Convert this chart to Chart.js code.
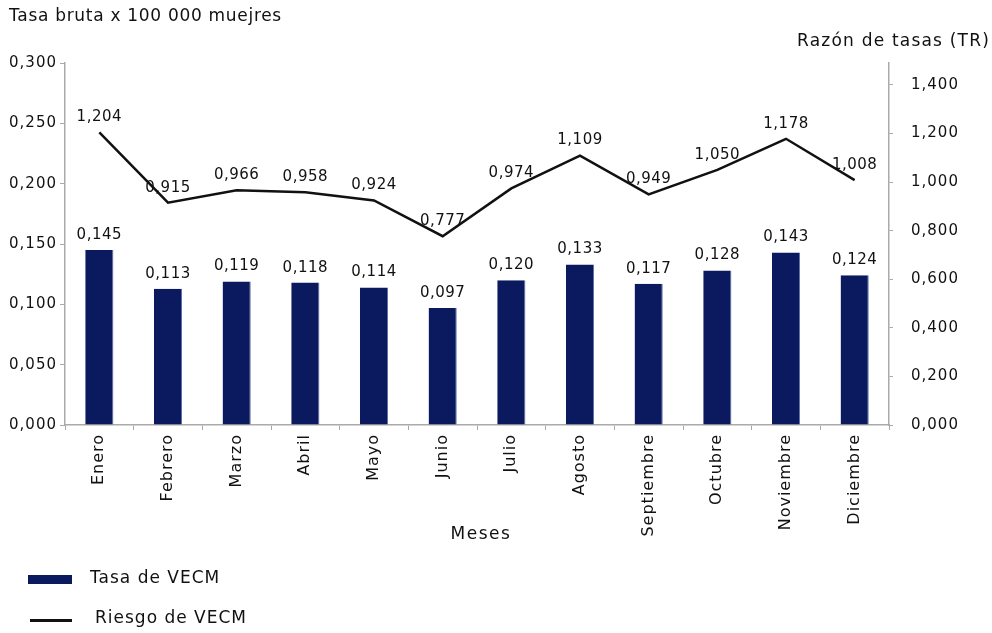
<!DOCTYPE html>
<html>
<head>
<meta charset="utf-8">
<script src="https://cdn.jsdelivr.net/npm/chart.js@4"></script>
<style>
  body { margin: 0; background: #fff; }
  #wrap { position: relative; width: 992px; height: 633px; }
  canvas { position: absolute; left: 0; top: 0; }
  .lg { position: absolute; font: 17px "DejaVu Sans", sans-serif; letter-spacing: 1px; color: #111; }
</style>
</head>
<body>
<div id="wrap">
  <canvas id="chart1" width="992" height="633"></canvas>
  <div class="lg" style="left:28px;top:575px;width:44px;height:9px;background:#0b1a5e"></div>
  <div class="lg" style="left:90px;top:567px">Tasa de VECM</div>
  <div class="lg" style="left:30px;top:619px;width:42px;height:3px;background:#111"></div>
  <div class="lg" style="left:95px;top:607px">Riesgo de VECM</div>
</div>
<script>
const months = ['Enero', 'Febrero', 'Marzo', 'Abril', 'Mayo', 'Junio', 'Julio', 'Agosto', 'Septiembre', 'Octubre', 'Noviembre', 'Diciembre'];
const tasa = [0.145, 0.113, 0.119, 0.118, 0.114, 0.097, 0.120, 0.133, 0.117, 0.128, 0.143, 0.124];
const riesgo = [1.204, 0.915, 0.966, 0.958, 0.924, 0.777, 0.974, 1.109, 0.949, 1.050, 1.178, 1.008];

const fontFam = '"DejaVu Sans", sans-serif';
const fmt = v => v.toFixed(3).replace('.', ',');

// wider letter spacing like the original picture
const spacingPlugin = {
  id: 'spacing',
  beforeDraw(chart) { chart.ctx.letterSpacing = '1px'; }
};

// value labels + axis titles
const labelsPlugin = {
  id: 'labels',
  afterDatasetsDraw(chart) {
    const ctx = chart.ctx;
    ctx.save();
    ctx.fillStyle = '#111';
    ctx.textBaseline = 'middle';
    ctx.font = '15px ' + fontFam;
    ctx.letterSpacing = '0.5px';
    ctx.textAlign = 'center';
    chart.data.datasets.forEach((ds, di) => {
      const meta = chart.getDatasetMeta(di);
      meta.data.forEach((el, i) => {
        ctx.fillText(fmt(ds.data[i]), el.x, el.y - 15);
      });
    });
    ctx.font = '17px ' + fontFam;
    ctx.letterSpacing = '0.7px';
    ctx.textAlign = 'left';
    ctx.fillText('Tasa bruta x 100 000 muejres', 9, 17);
    ctx.letterSpacing = '1.2px';
    ctx.textAlign = 'right';
    ctx.fillText('Razón de tasas (TR)', 990, 42);
    ctx.letterSpacing = '1.5px';
    ctx.textAlign = 'center';
    ctx.fillText('Meses', 481, 535);
    ctx.restore();
  }
};

new Chart(document.getElementById('chart1').getContext('2d'), {
  data: {
    labels: months,
    datasets: [
      {
        type: 'line',
        data: riesgo,
        yAxisID: 'y1',
        borderColor: '#111',
        borderWidth: 2.5,
        pointRadius: 0,
        tension: 0,
        fill: false
      },
      {
        type: 'bar',
        data: tasa,
        yAxisID: 'y',
        backgroundColor: '#0b1a5e',
        borderColor: '#5a6fa8',
        borderWidth: { left: 0, right: 1, top: 0, bottom: 0 },
        categoryPercentage: 0.82,
        barPercentage: 0.5
      }
    ]
  },
  options: {
    responsive: false,
    animation: false,
    layout: { padding: { top: 63, left: 0, right: 0, bottom: 0 } },
    plugins: { legend: { display: false }, tooltip: { enabled: false } },
    scales: {
      x: {
        afterFit(s) { s.height = 208; },
        grid: { offset: true, drawOnChartArea: false, tickLength: 5, color: '#aaa' },
        border: { color: '#aaa', width: 1.5 },
        ticks: { minRotation: 90, maxRotation: 90, color: '#111', font: { family: fontFam, size: 16 }, padding: 4 }
      },
      y: {
        position: 'left',
        min: 0,
        max: 0.3,
        afterFit(s) { s.width = 65; },
        grid: { drawOnChartArea: false, tickLength: 5, color: '#aaa' },
        border: { color: '#aaa', width: 1.5 },
        ticks: { stepSize: 0.05, color: '#111', font: { family: fontFam, size: 15 }, padding: 3, callback: v => fmt(v) }
      },
      y1: {
        position: 'right',
        min: 0,
        max: 1.49,
        afterFit(s) { s.width = 103; },
        afterBuildTicks(s) { s.ticks = s.ticks.filter(t => Math.abs(t.value * 5 - Math.round(t.value * 5)) < 1e-6); },
        grid: { drawOnChartArea: false, tickLength: 4, color: '#aaa' },
        border: { color: '#aaa', width: 1.5 },
        ticks: { stepSize: 0.2, color: '#111', font: { family: fontFam, size: 15 }, padding: 18, callback: v => fmt(v) }
      }
    }
  },
  plugins: [spacingPlugin, labelsPlugin]
});
</script>
</body>
</html>
